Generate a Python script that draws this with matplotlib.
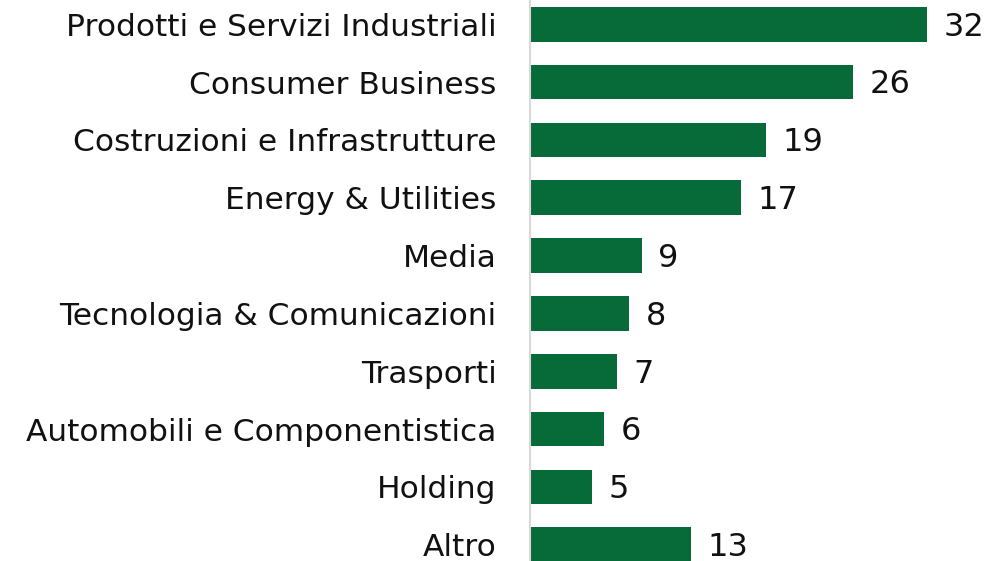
import matplotlib
matplotlib.use('Agg')
import matplotlib.pyplot as plt

# dati
categorie = ['Prodotti e Servizi Industriali', 'Consumer Business',
             'Costruzioni e Infrastrutture', 'Energy & Utilities', 'Media',
             'Tecnologia & Comunicazioni', 'Trasporti',
             'Automobili e Componentistica', 'Holding', 'Altro']
valori = [32, 26, 19, 17, 9, 8, 7, 6, 5, 13]

colore = '#066b38'

plt.rcParams['font.family'] = ['DejaVu Sans']
fig = plt.figure(figsize=(9.89, 5.61), dpi=100)
ax = fig.add_axes([530 / 989, 0, 1 - 530 / 989, 1])

pos = list(range(len(categorie)))
ax.barh(pos, valori, height=0.6, color=colore)

for p, v in zip(pos, valori):
    ax.annotate(str(v), (v, p), xytext=(12, -2), textcoords='offset points',
                va='center', ha='left', fontsize=23, color='#111111')

ax.set_yticks(pos)
ax.set_yticklabels(categorie, fontsize=22.5, color='#111111')
ax.tick_params(axis='y', length=0, pad=24)
ax.set_xticks([])
ax.set_xlim(0, 37)
ax.set_ylim(9.28, -0.42)

for s in ['top', 'right', 'bottom']:
    ax.spines[s].set_visible(False)
ax.spines['left'].set_color('#d9d9d9')
ax.spines['left'].set_linewidth(1.5)

fig.savefig('out.png', dpi=100)
